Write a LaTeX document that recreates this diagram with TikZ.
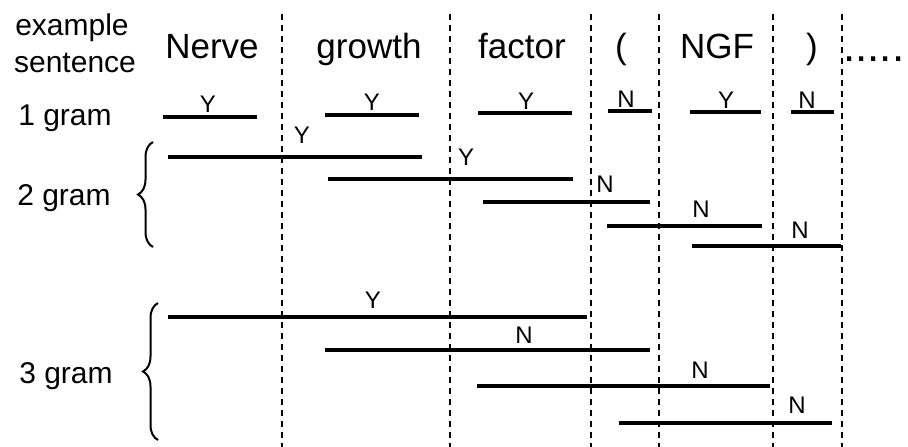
\documentclass[tikz,border=0pt]{standalone}
\usepackage{fontspec}
\setmainfont{Liberation Sans}
\usetikzlibrary{decorations.pathreplacing}

\begin{document}
\begin{tikzpicture}[x=1pt,y=-1pt]
    \tikzstyle{word}=[font=\fontsize{35}{40}\selectfont, inner sep=0pt, anchor=base]
    \tikzstyle{side}=[font=\fontsize{30}{37}\selectfont, inner sep=0pt, anchor=base]
    \tikzstyle{yn}=[font=\fontsize{24}{26}\selectfont, inner sep=0pt, anchor=base]
    \tikzstyle{gram}=[line width=3.6pt]
    \tikzstyle{sep}=[line width=1.8pt, dash pattern=on 6pt off 5pt]
    \tikzstyle{curly}=[decorate, decoration={brace, amplitude=15pt, aspect=0.5}, line width=2pt]

    \useasboundingbox (0,0) rectangle (908,447);

    % Column separators
    \foreach \name/\x in {1/282, 2/450, 3/591, 4/659, 5/773, 6/842}
        \draw[sep] (\x,14) -- (\x,447);

    % The example sentence
    \node[side] (ex) at (72,35) {example};
    \node[side] (sent) at (75,72) {sentence};
    \foreach \name/\x/\txt in {nerve/212/Nerve, growth/369/growth, factor/522/factor,
                               lpar/621/{(}, ngf/717/NGF, rpar/812/{)}}
        \node[word] (w-\name) at (\x,58) {\txt};
    \node[word, anchor=base west, font=\fontsize{44}{44}\selectfont] (dots) at (843,61) {.....};

    % Row labels
    \node[side] (one) at (65,125) {1 gram};
    \node[side] (two) at (64,205) {2 gram};
    \node[side] (three) at (66,383) {3 gram};

    \draw[curly] (153,247) -- (153,142);
    \draw[curly] (158,440) -- (158,303);

    % 1 gram segments
    \foreach \i/\xa/\xb/\y/\lx/\ly/\t in {1/163/257/117/208/112/Y, 2/325/419/115/372/110/Y,
            3/478/572/113/526/109/Y, 4/608/652/111/626/107/N,
            5/690/761/112/726/108/Y, 6/791/834/112/807/108/N}
    {
        \draw[gram] (\xa,\y) -- (\xb,\y);
        \node[yn] (u-\i) at (\lx,\ly) {\t};
    }

    % 2 gram segments
    \foreach \i/\xa/\xb/\y/\lx/\ly/\t in {1/168/422/157/302/143/Y, 2/328/573/179/466/165/Y,
            3/483/650/202/605/192/N, 4/607/762/226/701/217/N,
            5/692/841/246/800/238/N}
    {
        \draw[gram] (\xa,\y) -- (\xb,\y);
        \node[yn] (b-\i) at (\lx,\ly) {\t};
    }

    % 3 gram segments
    \foreach \i/\xa/\xb/\y/\lx/\ly/\t in {1/168/587/317/373/308/Y, 2/325/650/350/524/343/N,
            3/477/770/386/700/378/N, 4/619/832/423/797/413/N}
    {
        \draw[gram] (\xa,\y) -- (\xb,\y);
        \node[yn] (t-\i) at (\lx,\ly) {\t};
    }
\end{tikzpicture}
\end{document}
